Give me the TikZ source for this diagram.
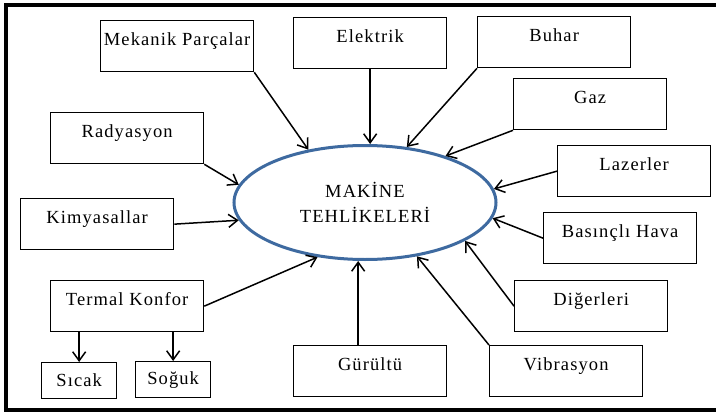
\documentclass[tikz,border=0pt]{standalone}
\usepackage{fontspec}
\setmainfont{Liberation Serif}[LetterSpace=6]
\usetikzlibrary{arrows.meta,shapes.geometric}
\definecolor{elipsmavi}{RGB}{62,106,160}
\begin{document}
\begin{tikzpicture}[x=1pt,y=-1pt]
\tikzstyle{every node}+=[inner sep=0pt, font=\fontsize{18.5}{25}\selectfont]
\tikzstyle{kutu}=[draw, line width=1.3pt, anchor=north west, minimum width=153pt, text height=25pt, text depth=26pt]
\tikzstyle{kucuk}=[draw, line width=1.3pt, anchor=north west, minimum width=75pt, minimum height=36pt]
\tikzstyle{ok}=[line width=1.5pt, -{Straight Barb[length=9pt,width=13pt]}]
\useasboundingbox (0,0) rectangle (716,415);
\draw[line width=4pt] (716,5.3) -- (6,5.3) -- (6,409.5) -- (716,409.5);
\node[ellipse, draw=elipsmavi, line width=3pt, minimum width=262pt, minimum height=114pt, align=center] (hz) at (365,202.5) {MAKİNE\\TEHLİKELERİ};
\node[kutu] (mk) at (100,20) {Mekanik Parçalar};
\node[kutu] (el) at (293,17) {Elektrik};
\node[kutu] (bh) at (477,16) {Buhar};
\node[kutu] (gz) at (513,78) {Gaz};
\node[kutu] (lz) at (557,145) {Lazerler};
\node[kutu] (rd) at (50,112) {Radyasyon};
\node[kutu] (km) at (20,198) {Kimyasallar};
\node[kutu] (tk) at (50,280) {Termal Konfor};
\node[kutu] (gr) at (293,345) {Gürültü};
\node[kutu] (vb) at (489,345) {Vibrasyon};
\node[kutu] (dg) at (514,280) {Diğerleri};
\node[kutu] (bs) at (543,212) {Basınçlı Hava};
\node[kucuk] (sc) at (41,362) {Sıcak};
\node[kucuk] (so) at (135,361) {Soğuk};
\draw[ok] (mk.south east) -- (hz.137);
\draw[ok] (el.south) -- (el.south |- hz.north);
\draw[ok] (bh.south west) -- (hz.53);
\draw[ok] (gz.south west) -- (hz.30);
\draw[ok] (lz.west) -- (hz.6);
\draw[ok] (rd.south east) -- (hz.172);
\draw[ok] (km.east) -- (hz.188);
\draw[ok] (tk.east) -- (hz.229);
\draw[ok] (tk.south -| sc.north) -- (sc.north);
\draw[ok] (tk.south -| so.north) -- (so.north);
\draw[ok] ([xshift=-12pt]gr.north) -- ([xshift=-12pt]gr.north |- hz.south);
\draw[ok] (vb.north west) -- (hz.314);
\draw[ok] (dg.west) -- (hz.339);
\draw[ok] (bs.west) -- (hz.353);
\end{tikzpicture}
\end{document}
